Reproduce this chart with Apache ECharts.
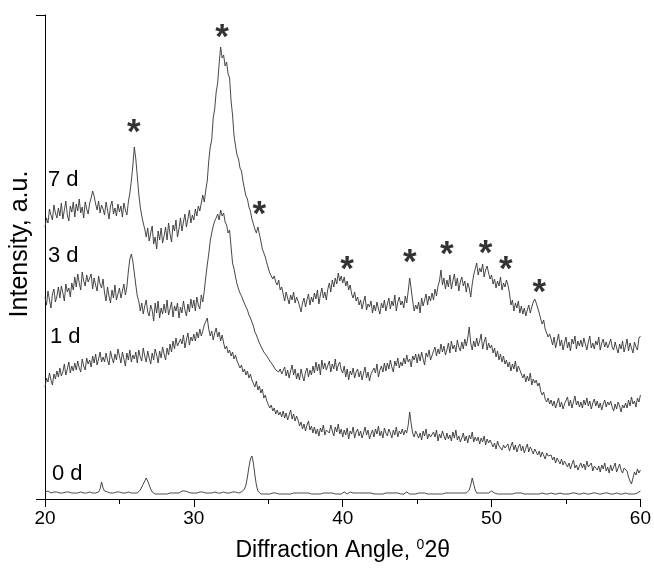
<!DOCTYPE html>
<html><head><meta charset="utf-8">
<script src="https://cdn.jsdelivr.net/npm/echarts@6/dist/echarts.min.js"></script>
<style>html,body{margin:0;padding:0;background:#fff}#c{width:654px;height:573px}</style>
</head><body><div id="c"></div>
<script>
// scan grid of the diffractometer (degrees 2θ)
const angleStart = 20, angleStep = 0.1;
const xTicks = [20, 30, 40, 50, 60];
const seriesNames = ['0 d', '1 d', '3 d', '7 d'];

const d0 = [
 7,7,8,7,6,7,7,6,7,6, 6,7,6,6,7,6,7,6,6,7, 6,7,6,6,7,6,6,7,6,6, 7,6,6,7,6,7,7,10,17,11,
 8,6,7,6,6,7,6,6,7,6, 7,6,6,7,6,6,7,6,6,7, 6,7,6,7,9,11,15,16,21,18, 14,10,7,6,5,6,5,6,5,6,
 5,6,5,6,6,7,6,5,6,7, 6,7,8,10,8,9,7,6,6,7, 6,7,6,6,7,6,7,6,6,7, 6,7,6,6,7,6,6,7,6,6,
 7,6,6,7,6,6,7,6,7,6, 6,7,7,8,10,14,22,32,40,43, 36,24,14,8,6,5,6,5,6,5, 6,5,5,6,5,6,5,5,6,5,
 6,5,6,5,6,5,6,6,5,6, 5,6,5,6,5,6,5,6,5,5, 6,5,6,5,6,5,5,6,5,6, 5,6,5,6,6,5,6,5,6,5,
 6,7,6,5,6,7,7,6,5,6, 5,6,7,6,5,6,5,6,5,6, 6,5,6,5,6,5,6,5,5,6, 5,6,5,6,5,6,5,6,6,5,
 6,5,6,7,6,5,6,5,6,5, 5,6,5,6,5,6,6,5,6,5, 6,5,6,5,6,5,6,5,5,6, 5,6,5,6,5,6,5,6,5,6,
 5,6,5,6,7,9,14,21,15,9, 6,5,6,5,6,7,6,5,6,7, 8,7,6,7,5,6,5,6,5,6, 5,6,5,6,5,5,6,5,6,5,
 6,5,5,6,5,6,5,6,5,5, 5,6,5,5,6,5,5,6,5,6, 6,5,5,6,5,5,6,5,5,6, 5,6,5,5,6,5,6,5,5,6,
 5,5,6,5,5,6,5,5,6,5, 6,5,5,6,5,5,6,5,6,5, 5,6,5,5,6,5,5,6,5,5, 6,5,5,6,5,6,5,5,6,6,
 8];

const d1 = [
 112,121,117,126,119,114,125,120,128,122, 131,123,127,135,124,130,137,126,133,128,
 136,129,138,131,127,140,133,129,141,135, 139,132,143,136,145,134,140,147,137,142,
 137,146,139,134,148,141,136,145,139,150, 143,136,147,140,133,146,139,149,137,144,
 140,147,136,149,142,138,151,143,137,148, 141,135,146,139,150,144,136,148,141,152,
 145,139,151,144,155,147,158,150,161,153, 152,160,155,164,151,159,166,154,162,158,
 165,158,167,161,170,163,168,174,172,181, 170,163,168,159,166,171,162,167,158,164,
 156,150,153,146,149,143,147,140,144,138, 136,131,134,127,130,124,128,121,125,119,
 117,112,118,109,113,106,110,101,104,98, 96,91,94,88,91,85,89,84,87,82,
 88,81,86,79,84,89,80,85,78,83, 79,73,77,70,75,68,74,78,69,73,
 66,72,65,70,63,71,67,74,64,69, 71,66,74,68,63,72,67,75,65,70,
 62,69,64,71,60,68,65,72,61,67, 70,63,68,61,66,72,64,69,60,65,
 69,62,70,65,73,63,68,61,71,66, 63,70,66,61,69,64,72,62,68,65,
 70,64,69,66,74,87,75,66,62,68, 67,61,66,59,68,63,70,60,65,62,
 60,67,62,69,58,65,61,68,63,59, 66,60,64,58,67,61,69,59,63,57,
 61,66,58,63,56,64,60,67,57,62, 58,62,55,61,57,63,54,60,56,59,
 57,52,56,50,58,53,55,49,54,51, 50,55,48,53,57,49,54,47,52,55,
 48,53,46,51,55,47,52,49,45,50, 51,44,48,42,47,45,40,46,43,41,
 44,39,42,36,41,38,35,40,34,38, 37,32,36,30,35,39,31,34,29,33,
 36,31,35,29,38,32,30,36,28,33, 35,29,33,27,34,30,36,28,32,26,
 34,28,32,36,27,31,35,29,26,31, 33,28,22,18,15,21,27,24,30,26,
 29];

const d3 = [
 202,194,208,199,191,205,210,197,203,212, 201,213,206,198,215,207,211,202,216,209,
 222,212,225,216,209,227,218,213,224,217, 219,225,210,221,214,208,223,215,211,220,
 206,198,212,203,196,209,201,214,199,205, 211,201,208,215,204,212,228,240,245,238,
 226,214,203,198,188,196,185,193,199,187, 183,194,189,178,196,186,198,181,191,185,
 195,186,199,184,190,197,182,193,188,196, 181,192,186,198,189,183,195,187,200,191,
 199,188,202,194,190,204,197,208,222,234, 245,258,266,273,278,281,285,279,289,283,
 286,277,274,266,269,252,236,230,222,215, 210,206,203,199,197,192,189,184,181,177,
 173,167,164,160,156,153,150,147,145,143, 142,138,140,134,133,129,131,127,130,125,
 127,132,123,129,121,128,134,124,130,120, 126,119,130,123,118,127,131,122,129,124,
 133,126,137,128,135,124,139,130,136,129, 131,138,127,135,130,140,128,134,137,129,
 126,133,122,130,119,128,124,131,121,127, 130,122,128,119,126,132,121,127,118,125,
 124,131,126,135,122,129,133,127,136,128, 136,130,139,132,127,138,133,141,131,137,
 133,141,135,144,137,140,132,143,139,145, 136,145,138,147,140,134,146,142,149,139,
 141,148,152,143,150,145,155,147,153,144, 149,156,146,158,150,154,147,159,152,148,
 157,150,160,153,161,172,156,149,158,152, 161,153,158,165,150,157,162,149,156,151,
 154,146,151,142,148,139,145,137,143,135, 139,132,137,128,135,130,138,127,133,129,
 127,121,125,117,123,118,126,114,120,116, 119,113,116,108,104,107,100,97,101,95,
 99,93,98,91,96,101,92,97,90,95, 96,102,93,99,91,97,103,94,98,92,
 97,91,99,94,101,93,98,90,96,100, 93,98,91,96,89,95,99,92,97,94,
 98,92,88,95,90,97,93,87,94,91, 96,91,99,93,102,95,98,92,101,97,
 104];

const d7 = [
 272,281,276,290,284,279,294,286,281,291, 283,296,280,289,298,284,278,293,287,297,
 282,295,288,300,286,292,281,297,290,285, 296,301,308,303,295,289,298,286,294,290,
 284,297,289,280,293,298,285,291,283,295, 287,293,282,296,289,284,297,306,318,333,
 352,340,323,305,292,283,276,270,262,271, 258,266,273,255,262,250,268,259,271,256,
 263,272,259,276,265,257,274,268,279,262, 270,281,268,277,285,272,280,289,276,284,
 279,290,283,293,288,296,304,297,309,318, 338,352,359,381,390,407,416,436,452,441,
 444,433,437,425,421,398,384,363,353,344, 340,331,328,318,310,303,300,292,288,280,
 275,270,266,272,270,258,250,246,242,236, 231,226,228,220,223,217,214,219,209,212,
 205,198,207,201,195,204,199,207,196,202, 198,193,187,196,201,192,199,205,194,202,
 197,206,200,209,195,204,211,201,207,199, 210,216,207,219,212,221,215,226,218,223,
 216,222,213,218,209,214,205,201,207,198, 202,194,199,190,197,203,189,195,192,198,
 186,194,188,197,190,185,196,191,199,188, 195,201,190,198,193,204,188,197,202,194,
 198,191,203,196,208,221,210,198,188,194, 190,197,186,201,193,199,205,194,203,198,
 206,199,210,203,213,218,229,214,221,210, 219,212,224,210,218,225,213,221,208,217,
 222,213,218,207,216,211,202,215,224,230, 236,224,231,227,235,222,229,233,226,220,
 224,215,220,211,218,213,222,209,216,212, 219,214,206,194,199,188,196,191,198,186,
 193,185,191,183,189,194,186,192,197,200, 196,191,186,180,175,179,170,166,162,165,
 160,154,162,151,158,165,153,159,149,156, 162,151,157,148,160,155,163,150,158,153,
 159,152,161,155,149,157,163,151,156,150, 158,154,162,149,156,160,152,157,151,155,
 160,152,149,157,151,146,155,150,158,147, 153,160,148,156,151,146,157,152,149,161,
 163];

// peak markers (angle, intensity)
const starAngles = [25.96, 31.9, 34.4, 40.3, 44.5, 47.0, 49.6, 50.95, 53.2];
const starHeights = [374, 469, 292, 237, 244, 252, 253, 237, 214];

const nPts = Math.max(d0.length, d1.length, d3.length, d7.length);
const angles = Array.from({length: nPts}, (_, i) => +(angleStart + i * angleStep).toFixed(1));
const pair = arr => arr.map((v, i) => [angles[i], v]);
const FONT = '"Liberation Sans", Arial, sans-serif';

const chart = echarts.init(document.getElementById('c'), null, {renderer: 'canvas'});
const lineSeries = [d0, d1, d3, d7].map((arr, k) => ({
  name: seriesNames[k], type: 'line', data: pair(arr), showSymbol: false, symbol: 'none',
  lineStyle: {color: '#333', width: 0.9}, animation: false, silent: true
}));

chart.setOption({
  animation: false,
  grid: {left: 45, right: 12, top: 15, bottom: 74},
  xAxis: {
    type: 'value', min: 20, max: 60, interval: 10,
    axisLine: {show: true, onZero: false, lineStyle: {color: '#000', width: 1}},
    axisTick: {show: true, inside: false, length: 8, lineStyle: {color: '#000'}},
    minorTick: {show: true, splitNumber: 2, length: 5, lineStyle: {color: '#000'}},
    splitLine: {show: false},
    axisLabel: {color: '#000', fontSize: 19, fontFamily: FONT, margin: 10,
      formatter: v => xTicks.includes(v) ? String(v) : ''},
    name: 'Diffraction Angle, {sup|0}2θ', nameLocation: 'middle', nameGap: 39,
    nameTextStyle: {color: '#000', fontSize: 23, fontFamily: FONT,
      rich: {sup: {fontSize: 14, fontFamily: FONT, color: '#000', verticalAlign: 'top', padding: [0, 0, 11, 0]}}}
  },
  yAxis: {
    type: 'value', min: 0, max: 484, interval: 484,
    axisLine: {show: true, lineStyle: {color: '#000', width: 1}},
    axisTick: {show: true, inside: false, length: 9, lineStyle: {color: '#000'}},
    axisLabel: {show: false}, splitLine: {show: false}
  },
  graphic: [
    {type: 'text', x: 20, y: 244, rotation: Math.PI / 2,
      style: {text: 'Intensity, a.u.', font: '25px ' + FONT, fill: '#000', align: 'center', verticalAlign: 'middle'}},
    {type: 'text', left: 48, top: 169, style: {text: seriesNames[3], font: '22px ' + FONT, fill: '#000'}},
    {type: 'text', left: 48, top: 245, style: {text: seriesNames[2], font: '22px ' + FONT, fill: '#000'}},
    {type: 'text', left: 50, top: 326, style: {text: seriesNames[1], font: '22px ' + FONT, fill: '#000'}},
    {type: 'text', left: 52, top: 463, style: {text: seriesNames[0], font: '22px ' + FONT, fill: '#000'}}
  ],
  series: lineSeries.concat([{
    type: 'scatter', data: starAngles.map((a, i) => [a, starHeights[i]]),
    symbolSize: 0, silent: true, animation: false,
    label: {show: true, position: 'inside', formatter: '*', color: '#000',
      fontSize: 35, fontWeight: 'bold', fontFamily: FONT, offset: [0, 8]}
  }])
});
</script></body></html>
